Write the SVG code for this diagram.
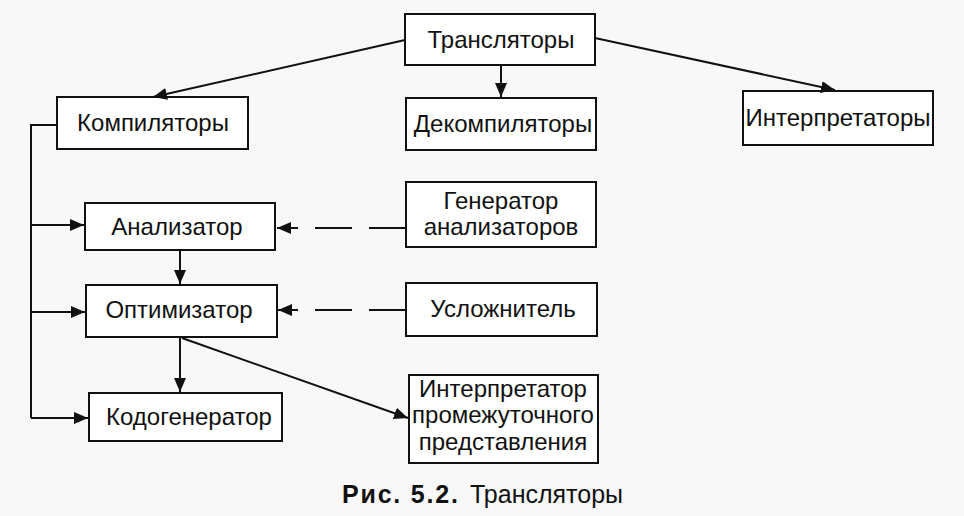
<svg xmlns="http://www.w3.org/2000/svg" width="964" height="516" viewBox="0 0 964 516">
<defs>
<marker id="ah" viewBox="0 0 14 12" refX="14" refY="6" markerWidth="14" markerHeight="12" markerUnits="userSpaceOnUse" orient="auto">
<path d="M0,0 L14,6 L0,12 Z" fill="#111"/>
</marker>
<style>
.box{fill:#fff;stroke:#111;stroke-width:2}
.t{font-family:"Liberation Sans",Arial,sans-serif;font-size:24px;fill:#111;text-anchor:middle}
.c{fill:none;stroke:#111;stroke-width:2}
.d{fill:none;stroke:#111;stroke-width:2;stroke-dasharray:37 17}
.cap{font-family:"Liberation Sans",Arial,sans-serif;font-size:25px;fill:#111}
</style>
</defs>
<rect x="0" y="0" width="964" height="516" fill="#f8f8f8"/>
<g id="translators"><rect class="box" x="405" y="14" width="190" height="51"/><text class="t" x="501" y="48">Трансляторы</text></g>
<g id="compilers"><rect class="box" x="57" y="97" width="191" height="52"/><text class="t" x="153" y="131">Компиляторы</text></g>
<g id="decompilers"><rect class="box" x="406" y="98" width="190" height="52"/><text class="t" x="503" y="132">Декомпиляторы</text></g>
<g id="interpreters"><rect class="box" x="743" y="91" width="190" height="54"/><text class="t" x="838" y="126">Интерпретаторы</text></g>
<g id="analyzer"><rect class="box" x="85" y="203" width="190" height="47"/><text class="t" x="177" y="235">Анализатор</text></g>
<g id="generator"><rect class="box" x="406" y="182" width="190" height="65"/><text class="t" x="501" y="209">Генератор</text><text class="t" x="501" y="235">анализаторов</text></g>
<g id="optimizer"><rect class="box" x="86" y="285" width="191" height="52"/><text class="t" x="179" y="318">Оптимизатор</text></g>
<g id="complicator"><rect class="box" x="406" y="283" width="191" height="53"/><text class="t" x="503" y="317">Усложнитель</text></g>
<g id="codegen"><rect class="box" x="89" y="393" width="193" height="48"/><text class="t" x="189" y="425">Кодогенератор</text></g>
<g id="intermediate"><rect class="box" x="409" y="375" width="189" height="88"/><text class="t" x="503" y="397">Интерпретатор</text><text class="t" x="503" y="423">промежуточного</text><text class="t" x="503" y="450">представления</text></g>
<g id="connectors">
<path class="c" d="M405,40 L153,97" marker-end="url(#ah)"/>
<path class="c" d="M501,65 L501,97" marker-end="url(#ah)"/>
<path class="c" d="M595,38 L835,90" marker-end="url(#ah)"/>
<path class="c" d="M57,125 L31,125 L31,418"/>
<path class="c" d="M31,225 L84,225" marker-end="url(#ah)"/>
<path class="c" d="M31,312 L85,312" marker-end="url(#ah)"/>
<path class="c" d="M31,418 L88,418" marker-end="url(#ah)"/>
<path class="c" d="M180,250 L180,284" marker-end="url(#ah)"/>
<path class="c" d="M180,337 L180,392" marker-end="url(#ah)"/>
<path class="c" d="M182,338 L408,418" marker-end="url(#ah)"/>
<path class="d" d="M406,228 L296,228"/>
<path class="c" d="M298,228 L277,228" marker-end="url(#ah)"/>
<path class="d" d="M406,310 L296,310"/>
<path class="c" d="M298,310 L278,310" marker-end="url(#ah)"/>
</g>
<text class="cap" x="342" y="503" font-weight="bold" letter-spacing="1.8">Рис. 5.2.</text>
<text class="cap" x="470" y="503">Трансляторы</text>
</svg>
